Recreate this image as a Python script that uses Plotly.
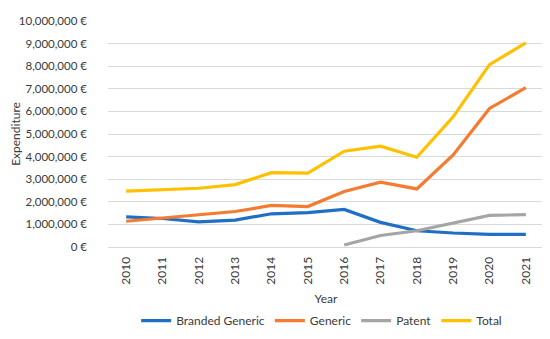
import plotly.graph_objects as go

years = [2010, 2011, 2012, 2013, 2014, 2015, 2016, 2017, 2018, 2019, 2020, 2021]
branded_generic = [1330000, 1260000, 1110000, 1190000, 1470000, 1520000, 1660000, 1090000, 720000, 620000, 560000, 560000]
generic = [1140000, 1290000, 1430000, 1570000, 1840000, 1790000, 2460000, 2870000, 2570000, 4070000, 6130000, 7050000]
patent = [None, None, None, None, None, None, 90000, 510000, 720000, 1070000, 1400000, 1430000]
total = [2470000, 2540000, 2600000, 2760000, 3290000, 3270000, 4240000, 4460000, 3970000, 5760000, 8070000, 9030000]

series = [
    ("Branded Generic", branded_generic, "#1F6FC5"),
    ("Generic", generic, "#F47B30"),
    ("Patent", patent, "#A5A5A5"),
    ("Total", total, "#FFC000"),
]

yticks = list(range(0, 10000001, 1000000))
ytext = [f"{v:,} €" if v else "0 €" for v in yticks]

fig = go.Figure()
for name, vals, col in series:
    fig.add_trace(go.Scatter(x=[str(y) for y in years], y=vals, name=name, mode="lines",
                             line=dict(color=col, width=3.2), connectgaps=False))

txt = "#3a3a3a"
font = dict(family="Lato, 'Open Sans', sans-serif", size=12, color=txt)
fig.update_layout(
    width=550, height=339,
    margin=dict(l=100, r=14, t=13, b=92),
    paper_bgcolor="white", plot_bgcolor="white",
    font=font,
    showlegend=True,
    legend=dict(orientation="h", x=0.49, xanchor="center", y=-0.326, yanchor="middle",
                font=dict(size=12, color=txt), itemwidth=30, tracegroupgap=0),
    xaxis=dict(type="category", tickangle=-90, showgrid=False, showline=True,
               linecolor="#D9D9D9", ticks="", range=[-0.5, 11.5], automargin=False,
               tickfont=dict(size=12, color=txt), ticklabelstandoff=4,
               title=dict(text="Year", standoff=10, font=dict(size=12, color=txt))),
    yaxis=dict(range=[0, 10000000], tickvals=yticks, ticktext=ytext, showgrid=True,
               gridcolor="#D9D9D9", gridwidth=1, zeroline=False, ticks="", automargin=False,
               tickfont=dict(size=11.5, color=txt), ticklabelstandoff=20,
               title=dict(text="Expenditure", standoff=2, font=dict(size=12, color=txt))),
)
fig.write_html("out.html")
